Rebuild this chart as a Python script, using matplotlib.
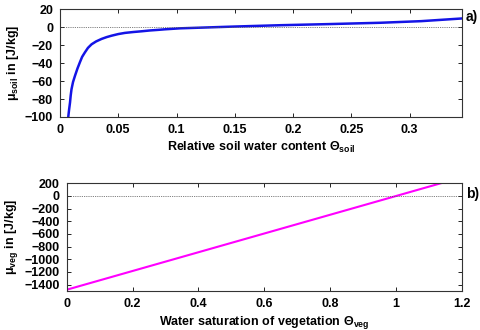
import numpy as np
import matplotlib
matplotlib.use('Agg')
import matplotlib.pyplot as plt

plt.rcParams['font.family'] = ['Liberation Sans', 'DejaVu Sans']
plt.rcParams['font.weight'] = 'bold'
plt.rcParams['mathtext.fontset'] = 'custom'
plt.rcParams['mathtext.rm'] = 'Liberation Sans'
plt.rcParams['mathtext.bf'] = 'Liberation Sans:bold'
plt.rcParams['mathtext.it'] = 'Liberation Sans:italic'
plt.rcParams['mathtext.default'] = 'rm'

# panel a: soil water potential
theta_soil = [0.0071, 0.0078, 0.0086, 0.0092, 0.0099, 0.0112, 0.0129, 0.015,
              0.0171, 0.019, 0.0214, 0.024, 0.0271, 0.031, 0.0357, 0.04,
              0.0443, 0.05, 0.0557, 0.063, 0.07, 0.077, 0.0843, 0.09, 0.103,
              0.15, 0.19, 0.23, 0.275, 0.31, 0.345]
mu_soil = [-100, -92, -84, -76, -69, -61, -54, -46, -39, -33, -28, -23,
           -19, -15.8, -13, -11, -9.4, -7.6, -6.3, -5.3, -4.5, -3.6,
           -2.9, -2.3, -1.2, 0.8, 2.3, 3.5, 5.0, 6.8, 9.8]

# panel b: vegetation water potential
theta_veg = [0.0, 1.2]
mu_veg = [-1480, 296]

soil_xticks = [0, 0.05, 0.1, 0.15, 0.2, 0.25, 0.3]
soil_xticklabels = ['0', '0.05', '0.1', '0.15', '0.2', '0.25', '0.3']
soil_yticks = [-100, -80, -60, -40, -20, 0, 20]
veg_xticks = [0, 0.2, 0.4, 0.6, 0.8, 1.0, 1.2]
veg_xticklabels = ['0', '0.2', '0.4', '0.6', '0.8', '1', '1.2']
veg_yticks = [-1400, -1200, -1000, -800, -600, -400, -200, 0, 200]

fs = 9
fig = plt.figure(figsize=(4.81, 3.30), dpi=100)
ax1 = fig.add_axes([0.1247, 0.6455, 0.8358, 0.3263])
ax2 = fig.add_axes([0.1387, 0.1182, 0.8218, 0.3263])

ax1.plot(theta_soil, mu_soil, color='#1414e6', lw=1.8,
         solid_joinstyle='round', solid_capstyle='round')
ax1.axhline(0, color='#555555', lw=0.6, ls=(0, (1, 1.2)))
ax1.set_xlim(0, 0.345)
ax1.set_ylim(-100, 20)
ax1.set_xticks(soil_xticks)
ax1.set_xticklabels(soil_xticklabels)
ax1.set_yticks(soil_yticks)
ax1.set_xlabel('$\\mathbf{Relative\\ soil\\ water\\ content}\\ \u0398_{\\mathbf{soil}}$',
               fontsize=fs, labelpad=3)
ax1.set_ylabel('$\u03bc_{\\mathbf{soil}}\\ \\mathbf{in\\ [J/kg]}$', fontsize=fs, labelpad=3)
ax1.text(1.01, 0.93, 'a)', transform=ax1.transAxes, fontsize=10, fontweight='bold', va='center')

ax2.plot(theta_veg, mu_veg, color='#ff00ff', lw=1.5)
ax2.axhline(0, color='#555555', lw=0.6, ls=(0, (1, 1.2)))
ax2.set_xlim(0, 1.2)
ax2.set_ylim(-1500, 200)
ax2.set_xticks(veg_xticks)
ax2.set_xticklabels(veg_xticklabels)
ax2.set_yticks(veg_yticks)
ax2.set_xlabel('$\\mathbf{Water\\ saturation\\ of\\ vegetation}\\ \u0398_{\\mathbf{veg}}$',
               fontsize=fs, labelpad=3)
ax2.set_ylabel('$\u03bc_{\\mathbf{veg}}\\ \\mathbf{in\\ [J/kg]}$', fontsize=fs, labelpad=3)
ax2.text(1.01, 0.9, 'b)', transform=ax2.transAxes, fontsize=10, fontweight='bold', va='center')

for ax in (ax1, ax2):
    ax.tick_params(direction='in', top=True, right=True, length=3, width=0.6,
                   labelsize=fs, pad=5)
    for sp in ax.spines.values():
        sp.set_linewidth(0.8)
        sp.set_color('#333333')
    for lab in ax.get_xticklabels() + ax.get_yticklabels():
        lab.set_fontweight('bold')

fig.savefig('out.png', dpi=100)
